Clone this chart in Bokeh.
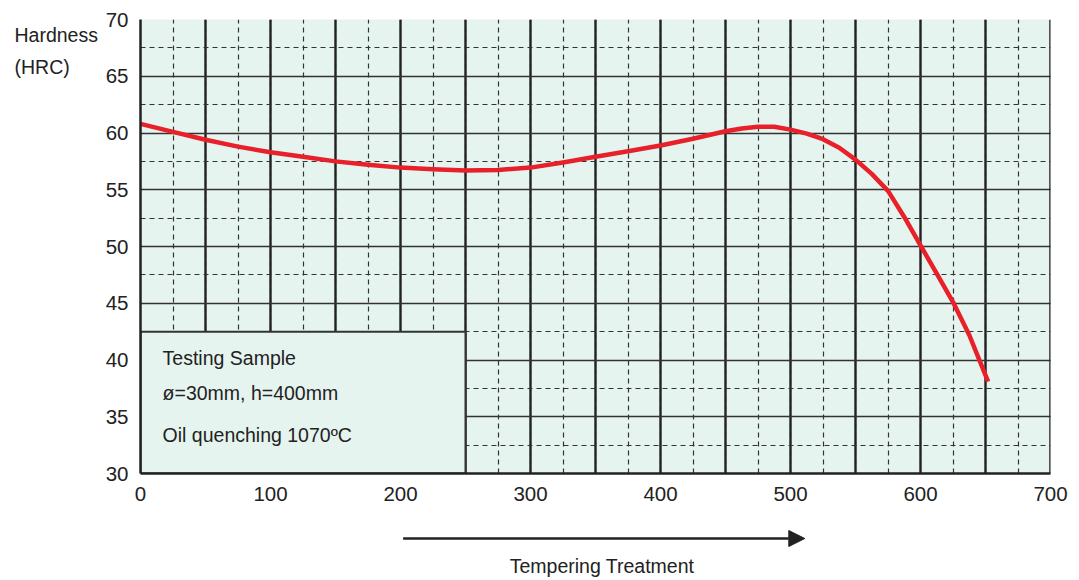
from bokeh.plotting import figure
from bokeh.layouts import column, row
from bokeh.models import Range1d, FixedTicker, SingleIntervalTicker, Label, Arrow, NormalHead, Span
from bokeh.embed import file_html
from bokeh.resources import INLINE

# Data
temperature = [0, 25, 50, 75, 100, 125, 150, 175, 200, 225, 250, 275, 300, 325, 350,
               375, 400, 425, 450, 462.5, 475, 487.5, 500, 512.5, 525, 537.5, 550,
               562.5, 575, 587.5, 600, 612.5, 625, 637.5, 652]
hardness = [60.8, 60.1, 59.4, 58.8, 58.3, 57.9, 57.5, 57.2, 56.95, 56.8, 56.7, 56.75, 56.95,
            57.4, 57.9, 58.4, 58.9, 59.5, 60.15, 60.4, 60.55, 60.55, 60.3, 59.95, 59.45, 58.7, 57.65,
            56.4, 54.9, 52.6, 50.1, 47.6, 45.1, 42.2, 38.1]
x_ticks = [0, 100, 200, 300, 400, 500, 600, 700]
y_ticks = [30, 35, 40, 45, 50, 55, 60, 65, 70]
box_lines = ["Testing Sample", "ø=30mm, h=400mm", "Oil  quenching 1070ºC"]
y_label_lines = ["Hardness", "(HRC)"]
x_label = "Tempering Treatment"

FONT = "Liberation Sans"
TXT = "#222222"
BG = "#e6f4ef"

LEFT_W = 100
MAIN_W = 973
MAIN_H = 515
BOT_H = 62

p = figure(width=MAIN_W, height=MAIN_H, x_range=Range1d(0, 700), y_range=Range1d(30, 70),
           output_backend="svg", toolbar_location=None, tools="",
           min_border_left=40, min_border_right=23, min_border_top=19, min_border_bottom=42)
p.background_fill_color = BG
p.outline_line_color = None

for ax in (p.xaxis, p.yaxis):
    ax.axis_line_color = "#222222"
    ax.axis_line_width = 2.5
    ax.major_tick_line_color = None
    ax.minor_tick_line_color = None
    ax.major_tick_in = 0
    ax.major_tick_out = 0
    ax.minor_tick_in = 0
    ax.minor_tick_out = 0
    ax.major_label_text_font = FONT
    ax.major_label_text_font_size = "20.5px"
    ax.major_label_text_color = TXT
p.xaxis.ticker = FixedTicker(ticks=x_ticks)
p.yaxis.ticker = FixedTicker(ticks=y_ticks)
p.xaxis.major_label_standoff = 13
p.yaxis.major_label_standoff = 12

p.xgrid.ticker = SingleIntervalTicker(interval=50, num_minor_ticks=2)
p.ygrid.ticker = SingleIntervalTicker(interval=5, num_minor_ticks=2)
p.xgrid.grid_line_color = "#222222"
p.xgrid.grid_line_width = 2.4
p.ygrid.grid_line_color = "#333333"
p.ygrid.grid_line_width = 1.4
for g in (p.xgrid, p.ygrid):
    g.grid_line_alpha = 1
    g.minor_grid_line_color = "#333333"
    g.minor_grid_line_width = 1.2
    g.minor_grid_line_dash = "5 4"

p.add_layout(Span(location=700, dimension="height", line_color="#222222", line_width=2.5))

# inset box
p.quad(left=[0], right=[250], bottom=[30], top=[42.5], fill_color=BG,
       line_color="#333333", line_width=2)
for txt, yy in zip(box_lines, [40.2, 37.05, 33.35]):
    p.add_layout(Label(x=17, y=yy, text=txt, text_font=FONT, text_font_size="19.5px",
                       text_color=TXT, text_baseline="middle"))

# curve
p.line(temperature, hardness, line_color="#e8202a", line_width=4.5, line_join="round")

# left panel with the y title (shares the hardness scale, frames aligned)
left = figure(width=LEFT_W, height=MAIN_H, x_range=Range1d(0, LEFT_W), y_range=p.y_range,
              output_backend="svg", toolbar_location=None, tools="",
              x_axis_location=None, y_axis_location=None,
              min_border_left=0, min_border_right=0, min_border_top=19, min_border_bottom=42)
left.grid.visible = False
left.outline_line_color = None
left.background_fill_color = None
left.border_fill_color = None
for txt, yy in zip(y_label_lines, [68.6, 65.8]):
    left.add_layout(Label(x=14, y=yy, text=txt, text_font=FONT, text_font_size="19.5px",
                          text_color=TXT, text_baseline="middle"))

# bottom panel with arrow and x title
bottom = figure(width=LEFT_W + MAIN_W, height=BOT_H, x_range=p.x_range, y_range=Range1d(BOT_H, 0),
                output_backend="svg", toolbar_location=None, tools="",
                x_axis_location=None, y_axis_location=None,
                min_border_left=140, min_border_right=23, min_border_top=0, min_border_bottom=0)
bottom.grid.visible = False
bottom.outline_line_color = None
bottom.background_fill_color = None
bottom.border_fill_color = None
bottom.add_layout(Arrow(x_start=202, y_start=23, x_end=511, y_end=23, line_color="#222222",
                        line_width=2.5,
                        end=NormalHead(size=16, fill_color="#222222", line_color="#222222")))
bottom.add_layout(Label(x=355, y=50, text=x_label, text_font=FONT,
                        text_font_size="19.5px", text_color=TXT, text_baseline="middle",
                        text_align="center"))

layout = column(row(left, p, spacing=0), bottom, spacing=0)
open("out.html", "w").write(file_html(layout, INLINE))
